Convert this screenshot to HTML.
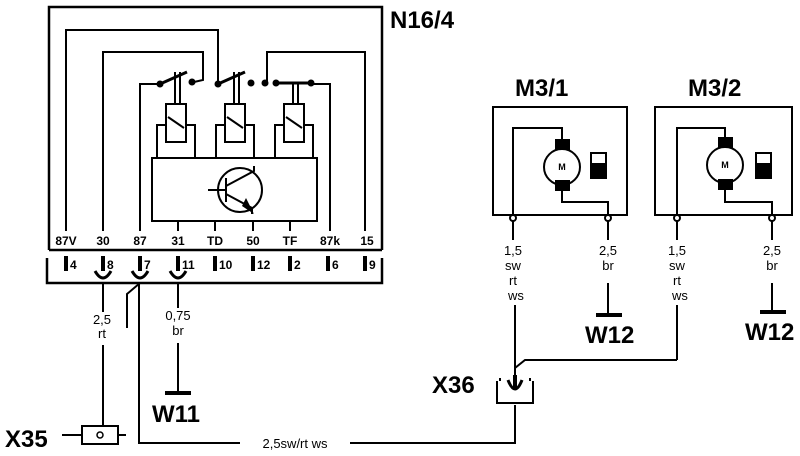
<!DOCTYPE html>
<html><head><meta charset="utf-8"><style>html,body{margin:0;padding:0;background:#fff}svg{display:block}</style></head><body>
<svg width="800" height="456" viewBox="0 0 800 456" xmlns="http://www.w3.org/2000/svg" font-family="Liberation Sans, sans-serif">
<g fill="none" stroke="#000" stroke-width="2">
<path d="M49 250 V7 H382 V250 M49 250 H382" stroke-width="2.5"/>
<path d="M47 258 V283 H382 V258" stroke-width="2.5"/>
<path d="M66 231 V30 H218 V84"/>
<path d="M103 231 V52 H203 V80 L194 82"/>
<path d="M140 231 V84 H160"/>
<path d="M365 231 V52 H267 V83"/>
<path d="M330 231 V84 H311"/>
<path d="M276 83 H311" stroke-width="3"/>
<path d="M160 84 L187 72" stroke-width="3"/>
<path d="M218 84 L245 72" stroke-width="3"/>
<g>
<path d="M175 72 V104 M180 72 V104"/>
<rect x="166" y="104" width="20" height="38"/>
<path d="M157 158 V125 H166 M186 125 H195 V158"/>
<path d="M168 117 L184 128"/>
</g>
<g>
<path d="M234 72 V104 M239 72 V104"/>
<rect x="225" y="104" width="20" height="38"/>
<path d="M216 158 V125 H225 M245 125 H254 V158"/>
<path d="M227 117 L243 128"/>
</g>
<g>
<path d="M293 83 V104 M298 83 V104"/>
<rect x="284" y="104" width="20" height="38"/>
<path d="M275 158 V125 H284 M304 125 H313 V158"/>
<path d="M286 117 L302 128"/>
</g>
<rect x="152" y="158" width="165" height="63"/>
<circle cx="240" cy="190" r="22"/>
<path d="M208 190 H226 M226 178 V202 M226 186 L254 171 V166 M226 194 L252 208 V214"/>
<path d="M178 221 V231 M215 221 V231 M253 221 V231 M290 221 V231"/>
<g stroke-width="4">
<path d="M66 256 V271 M103 256 V271 M140 256 V271 M178 256 V271 M215 256 V271 M253 256 V271 M290 256 V271 M328 256 V271 M365 256 V271"/>
</g>
<path d="M95 271 Q103 285 111 271 M132 271 Q140 285 148 271 M170 271 Q178 285 186 271" stroke-width="3"/>
<path d="M103 283 V312 M103 345 V425"/>
<path d="M139 283 V443 H240 M350 443 H515 V405"/>
<path d="M140 283 L127 294 V328"/>
<path d="M178 283 V308 M178 343 V393"/>
<path d="M165 393 H191" stroke-width="4"/>
<path d="M82 426 H118 V444 H82 Z M62 435 H82 M118 435 H126"/>
<path d="M497 381 V403 H533 V381 M500 381 V378 M530 381 V378"/>
<path d="M508 380 Q515 398 522 380" stroke-width="3"/>
<path d="M515 390 V368 L525 360 H677" />
<path d="M515 368 V305"/>
<path d="M515 375 V390" stroke-width="4"/>
<rect x="493" y="107" width="134" height="108"/>
<path d="M513 215 V128 H562 V140 M562 190 V202 H608 V215"/>
<circle cx="562" cy="167" r="18"/>
<rect x="556" y="140" width="13" height="9" fill="#000"/>
<rect x="556" y="181" width="13" height="9" fill="#000"/>
<rect x="591" y="153" width="15" height="25"/>
<rect x="591" y="164" width="15" height="14" fill="#000"/>
<circle cx="513" cy="218" r="3" fill="#fff"/>
<circle cx="608" cy="218" r="3" fill="#fff"/>
<path d="M513 221 V240 M608 221 V240 M608 283 V315"/>
<path d="M596 315 H622" stroke-width="4"/>
<rect x="655" y="107" width="137" height="108"/>
<path d="M677 215 V128 H725 V140 M725 190 V202 H772 V215"/>
<circle cx="725" cy="165" r="18"/>
<rect x="719" y="138" width="13" height="9" fill="#000"/>
<rect x="719" y="180" width="13" height="9" fill="#000"/>
<rect x="756" y="153" width="15" height="25"/>
<rect x="756" y="164" width="15" height="14" fill="#000"/>
<circle cx="677" cy="218" r="3" fill="#fff"/>
<circle cx="772" cy="218" r="3" fill="#fff"/>
<path d="M677 221 V240 M677 305 V360 M772 221 V240 M772 283 V310"/>
<path d="M760 312 H786" stroke-width="4"/>
</g>
<g fill="#000">
<circle cx="160" cy="84" r="3.5"/><circle cx="192" cy="82" r="3.5"/>
<circle cx="218" cy="84" r="3.5"/><circle cx="251" cy="83" r="3.5"/>
<circle cx="265" cy="83" r="3.5"/><circle cx="276" cy="83" r="3.5"/><circle cx="311" cy="83" r="3.5"/>
<circle cx="100" cy="435" r="3" fill="#fff" stroke="#000" stroke-width="1.5"/>
<path d="M242 206 L254 214 L246 198 Z"/>
</g>
<g font-weight="bold" font-size="12" text-anchor="middle">
<text x="66" y="245">87V</text><text x="103" y="245">30</text><text x="140" y="245">87</text>
<text x="178" y="245">31</text><text x="215" y="245">TD</text><text x="253" y="245">50</text>
<text x="290" y="245">TF</text><text x="330" y="245">87k</text><text x="367" y="245">15</text>
</g>
<g font-weight="bold" font-size="12">
<text x="70" y="269">4</text><text x="107" y="269">8</text><text x="144" y="269">7</text>
<text x="182" y="269">11</text><text x="219" y="269">10</text><text x="257" y="269">12</text>
<text x="294" y="269">2</text><text x="332" y="269">6</text><text x="369" y="269">9</text>
</g>
<g font-size="13" text-anchor="middle">
<text x="102" y="324">2,5</text><text x="102" y="338">rt</text>
<text x="178" y="320">0,75</text><text x="178" y="335">br</text>
<text x="295" y="448">2,5sw/rt ws</text>
<text x="513" y="255">1,5</text><text x="513" y="270">sw</text><text x="513" y="285">rt</text><text x="516" y="300">ws</text>
<text x="608" y="255">2,5</text><text x="608" y="270">br</text>
<text x="677" y="255">1,5</text><text x="677" y="270">sw</text><text x="677" y="285">rt</text><text x="680" y="300">ws</text>
<text x="772" y="255">2,5</text><text x="772" y="270">br</text>
</g>
<g font-size="9" font-weight="bold" text-anchor="middle"><text x="562" y="170">M</text><text x="725" y="168">M</text></g>
<g font-weight="bold" font-size="24">
<text x="390" y="28">N16/4</text>
<text x="515" y="96">M3/1</text><text x="688" y="96">M3/2</text>
<text x="585" y="343">W12</text><text x="745" y="340">W12</text>
<text x="152" y="422">W11</text>
<text x="5" y="447">X35</text><text x="432" y="393">X36</text>
</g>
</svg>
</body></html>
